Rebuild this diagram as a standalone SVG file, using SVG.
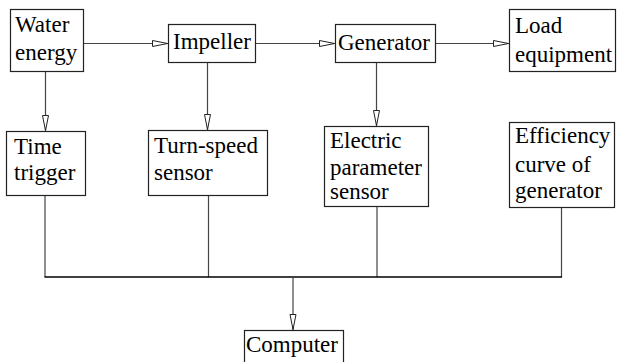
<svg xmlns="http://www.w3.org/2000/svg" width="619" height="362" viewBox="0 0 619 362">
<defs>
<marker id="arr" viewBox="0 0 16 8" refX="16" refY="4" markerWidth="16" markerHeight="8" markerUnits="userSpaceOnUse" orient="auto">
<path d="M0.5,1 L15.5,4 L0.5,7 Z" fill="#fff" stroke="#222" stroke-width="1"/>
</marker>
<style>
.box{fill:#fff;stroke:#222;stroke-width:1.2}
text{font-family:'Liberation Serif','Times New Roman',Times,serif;font-size:23px;fill:#000}
.c{fill:none;stroke:#444;stroke-width:1.2}
.bus{fill:none;stroke:#000;stroke-width:1.4}
</style>
</defs>
<g id="connectors">
<line class="c" x1="83" y1="43.5" x2="168" y2="43.5" marker-end="url(#arr)"/>
<line class="c" x1="256" y1="43.5" x2="335" y2="43.5" marker-end="url(#arr)"/>
<line class="c" x1="436" y1="43.5" x2="509" y2="43.5" marker-end="url(#arr)"/>
<line class="c" x1="45.5" y1="71" x2="45.5" y2="131" marker-end="url(#arr)"/>
<line class="c" x1="207.5" y1="62" x2="207.5" y2="130" marker-end="url(#arr)"/>
<line class="c" x1="376.5" y1="62" x2="376.5" y2="126" marker-end="url(#arr)"/>
<line class="c" x1="45" y1="195" x2="45" y2="277"/>
<line class="c" x1="208.5" y1="195" x2="208.5" y2="277"/>
<line class="c" x1="377" y1="206" x2="377" y2="277"/>
<line class="c" x1="561.5" y1="207" x2="561.5" y2="277"/>
<line class="bus" x1="44.5" y1="277" x2="562" y2="277"/>
<line class="c" x1="293" y1="277" x2="293" y2="330" marker-end="url(#arr)"/>
</g>
<g id="water">
<rect class="box" x="10.5" y="9.5" width="73" height="62"/>
<text x="15" y="32" font-family="Liberation Serif, serif">Water</text>
<text x="15" y="60" font-family="Liberation Serif, serif">energy</text>
</g>
<g id="impeller">
<rect class="box" x="168.5" y="24.5" width="87" height="38"/>
<text x="173" y="49" font-family="Liberation Serif, serif">Impeller</text>
</g>
<g id="generator">
<rect class="box" x="335.5" y="24.5" width="100" height="38"/>
<text x="338" y="50" font-family="Liberation Serif, serif">Generator</text>
</g>
<g id="load">
<rect class="box" x="509.5" y="9.5" width="106" height="62"/>
<text x="515" y="33" font-family="Liberation Serif, serif">Load</text>
<text x="515" y="62" font-family="Liberation Serif, serif">equipment</text>
</g>
<g id="time">
<rect class="box" x="6.5" y="131.5" width="79" height="64"/>
<text x="14" y="154" font-family="Liberation Serif, serif">Time</text>
<text x="14" y="180" font-family="Liberation Serif, serif">trigger</text>
</g>
<g id="turnspeed">
<rect class="box" x="148.5" y="130.5" width="119" height="65"/>
<text x="154" y="153" font-family="Liberation Serif, serif">Turn-speed</text>
<text x="154" y="180" font-family="Liberation Serif, serif">sensor</text>
</g>
<g id="electric">
<rect class="box" x="324.5" y="126.5" width="104" height="80"/>
<text x="330" y="148" font-family="Liberation Serif, serif">Electric</text>
<text x="330" y="175" font-family="Liberation Serif, serif">parameter</text>
<text x="330" y="199" font-family="Liberation Serif, serif">sensor</text>
</g>
<g id="efficiency">
<rect class="box" x="509.5" y="122.5" width="105" height="85"/>
<text x="515" y="143" font-family="Liberation Serif, serif">Efficiency</text>
<text x="515" y="172" font-family="Liberation Serif, serif">curve of</text>
<text x="515" y="198" font-family="Liberation Serif, serif">generator</text>
</g>
<g id="computer">
<rect class="box" x="244.5" y="330.5" width="99" height="40"/>
<text x="246" y="352" font-family="Liberation Serif, serif">Computer</text>
</g>
</svg>
